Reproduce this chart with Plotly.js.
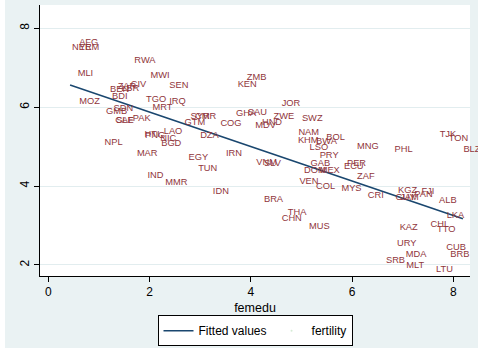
<!DOCTYPE html>
<html>
<head>
<meta charset="utf-8">
<script src="https://cdn.plot.ly/plotly-3.0.1.min.js"></script>
<style>html,body{margin:0;padding:0;background:#fff}#chart{width:478px;height:349px}</style>
</head>
<body>
<div id="chart"></div>
<script>
// Country codes (labels)
const countries = ["AFG","NER","YEM","RWA","MLI","MWI","ZAR","CIV","BEN","LBR","BDI","MOZ","TGO","IRQ","MRT","SDN","GMB","CAF","SLE","PAK","NPL","HTI","PNG","LAO","NIC","BGD","MAR","IND","MMR","EGY","TUN","IDN","SEN","ZMB","KEN","SYR","CMR","GTM","COG","DZA","IRN","GHA","SAU","MDV","HND","VNM","SLV","JOR","ZWE","SWZ","NAM","KHM","BWA","BOL","LSO","PRY","MNG","PHL","GAB","DOM","MEX","PER","ECU","ZAF","VEN","COL","MYS","CRI","BRA","THA","CHN","MUS","TJK","TON","BLZ","KGZ","FJI","GUY","JAM","PAN","ALB","LKA","KAZ","CHL","TTO","URY","CUB","MDA","BRB","SRB","MLT","LTU"];
// Female education (years)
const femedu = [0.61,0.47,0.61,1.70,0.58,2.02,1.37,1.63,1.22,1.44,1.26,0.61,1.93,2.39,2.06,1.29,1.14,1.32,1.34,1.67,1.11,1.90,1.91,2.28,2.21,2.23,1.75,1.96,2.31,2.77,2.96,3.25,2.39,3.92,3.74,2.81,2.90,2.69,3.40,3.00,3.51,3.71,3.94,4.09,4.22,4.11,4.26,4.61,4.45,5.01,4.94,4.93,5.29,5.49,5.16,5.36,6.10,6.84,5.18,5.05,5.36,5.90,5.84,6.10,4.96,5.29,5.79,6.31,4.26,4.73,4.61,5.15,7.73,7.91,8.20,6.91,7.37,6.86,6.95,7.23,7.72,7.87,6.94,7.55,7.68,6.89,7.86,7.06,7.94,6.67,7.07,7.66];
// Fertility (births per woman)
const fertility = [7.63,7.51,7.52,7.17,6.85,6.81,6.51,6.58,6.45,6.46,6.26,6.15,6.20,6.13,5.99,5.95,5.89,5.65,5.65,5.71,5.10,5.29,5.27,5.39,5.21,5.08,4.83,4.26,4.08,4.73,4.45,3.86,6.54,6.75,6.58,5.77,5.75,5.60,5.59,5.27,4.83,5.84,5.87,5.53,5.60,4.58,4.56,6.08,5.77,5.71,5.35,5.15,5.12,5.23,4.98,4.77,5.00,4.91,4.56,4.39,4.39,4.56,4.49,4.24,4.11,3.98,3.94,3.75,3.65,3.33,3.17,2.97,5.29,5.21,4.93,3.88,3.86,3.71,3.71,3.77,3.62,3.25,2.94,3.03,2.89,2.55,2.45,2.27,2.26,2.11,1.98,1.89];
// Fitted line end points
const fitX = [0.43, 8.19];
const fitY = [6.56, 3.17];
// Axis ticks
const xTicks = [0, 2, 4, 6, 8];
const yTicks = [2, 4, 6, 8];

const FONT = "Liberation Sans, Arial, sans-serif";
const NAVY = "#1A476F";
const MAROON = "#90353B";
const BG = "#EAF2F3";

const traces = [
  {x: fitX, y: fitY, type: "scatter", mode: "lines", name: "Fitted values",
   line: {color: NAVY, width: 1.6}, hoverinfo: "skip"},
  {x: femedu, y: fertility, text: countries, type: "scatter", mode: "text",
   textposition: "middle right", cliponaxis: false, showlegend: false,
   textfont: {family: FONT, size: 9.3, color: MAROON}, hoverinfo: "skip"},
  {x: [null], y: [null], type: "scatter", mode: "markers", name: "fertility",
   marker: {size: 1, opacity: 0}, hoverinfo: "skip"}
];

const layout = {
  width: 478, height: 349,
  margin: {l: 40, r: 8, t: 5, b: 73, pad: 0, autoexpand: false},
  paper_bgcolor: "#ffffff",
  plot_bgcolor: "rgba(0,0,0,0)",
  font: {family: FONT, size: 12, color: "#000"},
  showlegend: true,
  shapes: [
    {type: "rect", xref: "paper", yref: "paper", x0: -0.0814, x1: 1.0186, y0: -0.2657, y1: 1.0185,
     fillcolor: BG, line: {width: 0}, layer: "below"},
    {type: "rect", xref: "paper", yref: "paper", x0: 0, x1: 1, y0: 0, y1: 1,
     fillcolor: "#ffffff", line: {width: 0}, layer: "below"}
  ],
  xaxis: {
    range: [-0.164, 8.33], tickvals: xTicks, ticktext: xTicks.map(String), automargin: false,
    showgrid: false, zeroline: false, showline: true, linecolor: "#000", linewidth: 1,
    ticks: "outside", ticklen: 5, tickcolor: "#000", tickwidth: 1,
    tickfont: {family: FONT, size: 12, color: "#000"},
    title: {text: "femedu", font: {family: FONT, size: 12.5, color: "#000"}, standoff: 4}
  },
  yaxis: {
    range: [1.72, 8.59], tickvals: yTicks, ticktext: yTicks.map(String), automargin: false,
    showgrid: true, gridcolor: "#E2EDEF", gridwidth: 1,
    zeroline: false, showline: true, linecolor: "#000", linewidth: 1,
    ticks: "outside", ticklen: 5, tickcolor: "#000", tickwidth: 1, tickangle: -90,
    tickfont: {family: FONT, size: 12, color: "#000"}
  },
  legend: {
    orientation: "h", x: 0.5, xanchor: "center", y: -0.145, yanchor: "top",
    bgcolor: "#ffffff", bordercolor: "#000", borderwidth: 1,
    font: {family: FONT, size: 12, color: "#000"}
  }
};

Plotly.newPlot("chart", traces, layout, {staticPlot: true, displayModeBar: false});
</script>
</body>
</html>
